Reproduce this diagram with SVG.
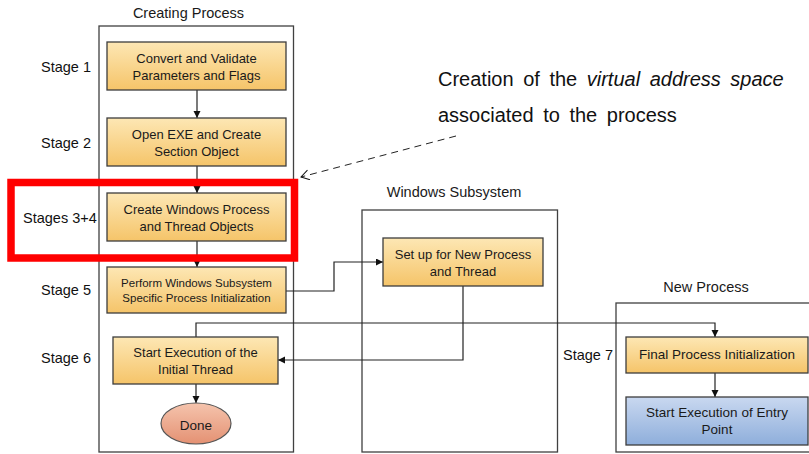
<svg xmlns="http://www.w3.org/2000/svg" width="809" height="454" viewBox="0 0 809 454">
<defs>
<linearGradient id="gOr" x1="0" y1="0" x2="0" y2="1"><stop offset="0" stop-color="#fde7b4"/><stop offset="1" stop-color="#f5c469"/></linearGradient>
<linearGradient id="gBl" x1="0" y1="0" x2="0" y2="1"><stop offset="0" stop-color="#c9d8f0"/><stop offset="1" stop-color="#8eaedb"/></linearGradient>
<linearGradient id="gRd" x1="0" y1="0" x2="0" y2="1"><stop offset="0" stop-color="#f5c4ad"/><stop offset="1" stop-color="#e49173"/></linearGradient>
<marker id="ah" markerUnits="userSpaceOnUse" markerWidth="8" markerHeight="8" refX="7" refY="3.5" orient="auto"><path d="M0,0 L7,3.5 L0,7 z" fill="#111"/></marker>
<marker id="oh" markerUnits="userSpaceOnUse" markerWidth="12" markerHeight="12" refX="9" refY="5" orient="auto"><path d="M1,0 L9,5 L1,10" fill="none" stroke="#111" stroke-width="1"/></marker>
<style>
.cont{fill:none;stroke:#404040;stroke-width:1.3}
.box{fill:url(#gOr);stroke:#3d3d3d;stroke-width:1.3}
.blue{fill:url(#gBl);stroke:#3d3d3d;stroke-width:1.3}
.done{fill:url(#gRd);stroke:#555;stroke-width:1.2}
.t{font-family:"Liberation Sans",Arial,sans-serif;fill:#1a1a1a;text-anchor:middle}
.s{font-family:"Liberation Sans",Arial,sans-serif;fill:#111;font-size:14.5px}
.c{fill:none;stroke:#222;stroke-width:1.2}
.ann{font-family:"Liberation Sans",Arial,sans-serif;fill:#111;font-size:20px;word-spacing:4px}
</style>
</defs>
<rect width="809" height="454" fill="#fff"/>

<g id="containers">
<rect class="cont" x="99" y="26" width="194.5" height="426"/>
<text class="t" x="188.5" y="18" font-size="14.5">Creating Process</text>
<rect class="cont" x="362" y="210" width="195.5" height="242"/>
<text class="t" x="454" y="197" font-size="14.5">Windows Subsystem</text>
<rect class="cont" x="616" y="303" width="200" height="149"/>
<text class="t" x="706" y="292" font-size="14.5">New Process</text>
</g>

<g id="stages">
<text class="s" x="41" y="72">Stage 1</text>
<text class="s" x="41" y="148">Stage 2</text>
<text class="s" x="23" y="223">Stages 3+4</text>
<text class="s" x="41" y="295">Stage 5</text>
<text class="s" x="41" y="363">Stage 6</text>
<text class="s" x="563" y="360">Stage 7</text>
</g>

<g id="connectors">
<line class="c" x1="197" y1="90" x2="197" y2="118" marker-end="url(#ah)"/>
<line class="c" x1="197" y1="166" x2="197" y2="193" marker-end="url(#ah)"/>
<line class="c" x1="197" y1="241" x2="197" y2="267" marker-end="url(#ah)"/>
<polyline class="c" points="286,291 334,291 334,262 383,262" marker-end="url(#ah)"/>
<polyline class="c" points="463,286 463,360 278,360" marker-end="url(#ah)"/>
<polyline class="c" points="196,337 196,323 715,323 715,337" marker-end="url(#ah)"/>
<line class="c" x1="196" y1="384" x2="196" y2="403" marker-end="url(#ah)"/>
<line class="c" x1="715" y1="373" x2="715" y2="397" marker-end="url(#ah)"/>
<line x1="456" y1="136" x2="301" y2="177" stroke="#222" stroke-width="1" stroke-dasharray="7,5" marker-end="url(#oh)"/>
</g>

<g id="n1"><rect class="box" x="107" y="42" width="179" height="48"/>
<text class="t" font-size="13" x="196.5" y="62.5">Convert and Validate</text>
<text class="t" font-size="13" x="196.5" y="79.5">Parameters and Flags</text></g>

<g id="n2"><rect class="box" x="107" y="118" width="179" height="48"/>
<text class="t" font-size="13" x="196.5" y="138.5">Open EXE and Create</text>
<text class="t" font-size="13" x="196.5" y="155.5">Section Object</text></g>

<g id="n3"><rect class="box" x="107" y="193" width="179" height="48"/>
<text class="t" font-size="13" x="196.5" y="213.5">Create Windows Process</text>
<text class="t" font-size="13" x="196.5" y="230.5">and Thread Objects</text></g>

<g id="n4"><rect class="box" x="107" y="267" width="179" height="46"/>
<text class="t" font-size="11.5" x="196.5" y="286.5">Perform Windows Subsystem</text>
<text class="t" font-size="11.5" x="196.5" y="301.5">Specific Process Initialization</text></g>

<g id="n5"><rect class="box" x="113" y="337" width="165" height="47"/>
<text class="t" font-size="13" x="195.5" y="357">Start Execution of the</text>
<text class="t" font-size="13" x="195.5" y="374">Initial Thread</text></g>

<g id="done"><ellipse class="done" cx="196" cy="423.5" rx="35" ry="20.5"/>
<text class="t" font-size="13.5" x="196" y="429.5">Done</text></g>

<g id="n6"><rect class="box" x="383" y="238" width="160" height="48"/>
<text class="t" font-size="13" x="463" y="258.5">Set up for New Process</text>
<text class="t" font-size="13" x="463" y="275.5">and Thread</text></g>

<g id="n7"><rect class="box" x="626" y="337" width="182" height="36"/>
<text class="t" font-size="13.5" x="717" y="359">Final Process Initialization</text></g>

<g id="n8"><rect class="blue" x="626" y="397" width="182" height="48"/>
<text class="t" font-size="13.5" x="717" y="416.5">Start Execution of Entry</text>
<text class="t" font-size="13.5" x="717" y="434">Point</text></g>

<g id="highlight"><rect x="11" y="182.5" width="283.5" height="75.5" fill="none" stroke="#ff0000" stroke-width="7.5"/></g>

<g id="annotation">
<text class="ann" x="438" y="86">Creation of the <tspan font-style="italic">virtual address space</tspan></text>
<text class="ann" x="438" y="122">associated to the process</text>
</g>
</svg>
